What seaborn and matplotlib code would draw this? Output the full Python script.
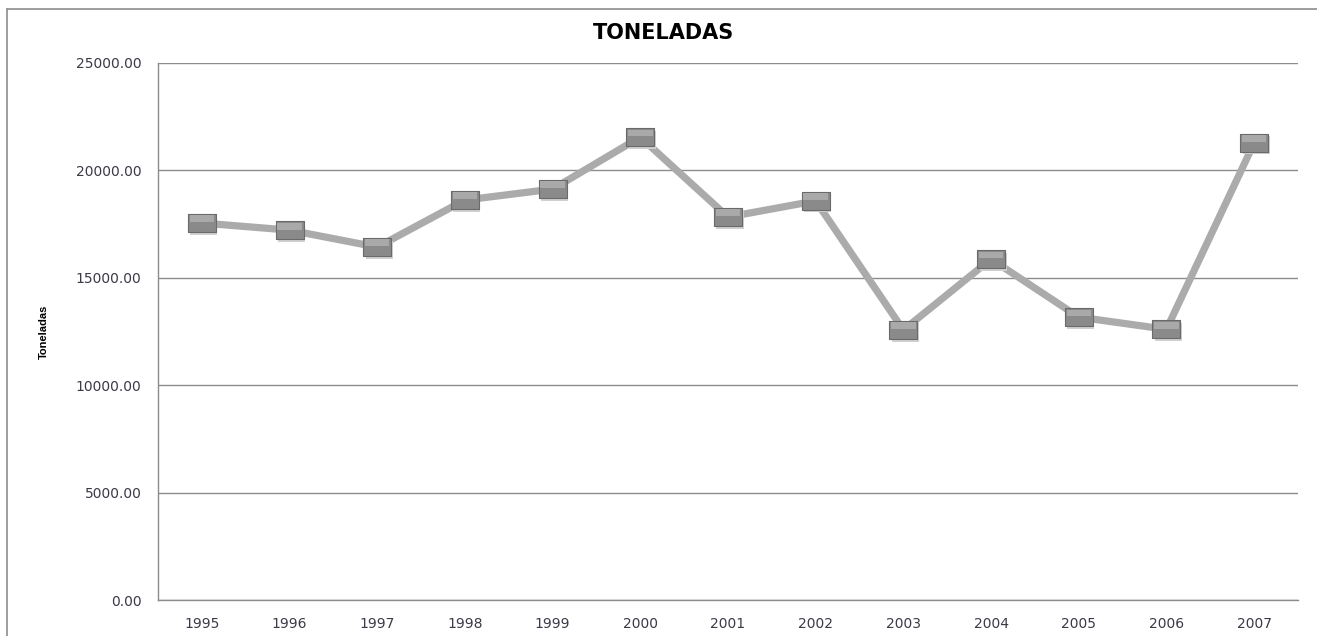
"""
Grafik garis TONELADAS per tahun (1995 - 2007) dengan gaya ala Excel.
"""

import matplotlib

matplotlib.use("Agg")
import matplotlib.pyplot as plt
import matplotlib.transforms as mtransforms
from matplotlib.lines import Line2D
from matplotlib.path import Path
import pandas as pd
import seaborn as sns


YEARS = ["1995", "1996", "1997", "1998", "1999", "2000", "2001",
         "2002", "2003", "2004", "2005", "2006", "2007"]
TONELADAS = [17550, 17220, 16430, 18620, 19130, 21550, 17830,
             18580, 12570, 15870, 13170, 12600, 21280]
Y_TICKS = [0, 5000, 10000, 15000, 20000, 25000]

TITLE = "TONELADAS"
Y_LABEL = "Toneladas"


def rect_path(y0, y1):
    verts = [(-1, y0), (1, y0), (1, y1), (-1, y1), (-1, y0)]
    codes = [Path.MOVETO, Path.LINETO, Path.LINETO, Path.LINETO, Path.CLOSEPOLY]
    return Path(verts, codes)


def main() -> None:
    sns.set_theme(style="white", context="notebook")
    plt.rcParams["font.family"] = ["DejaVu Sans"]

    df = pd.DataFrame({"Tahun": YEARS, "Toneladas": TONELADAS})

    fig = plt.figure(figsize=(13.17, 6.36), dpi=100)
    ax = fig.add_axes([158 / 1317, 36 / 636, 1140 / 1317, 537 / 636])

    # Garis utama.
    sns.lineplot(data=df, x="Tahun", y="Toneladas", color="#ababab",
                 linewidth=5.2, ax=ax, zorder=3, sort=False)

    # Penanda persegi panjang: bayangan, badan, kilau atas, dan sisi bawah gelap.
    body = rect_path(-0.67, 0.67)
    shine = rect_path(0.05, 0.62)
    size = 380

    sns.scatterplot(data=df, x="Tahun", y="Toneladas", marker=body, s=size,
                    color="#d0d0d0", edgecolor="none", linewidth=0, ax=ax, zorder=4)
    shadow = ax.collections[-1]
    shadow.set_offset_transform(
        ax.transData + mtransforms.ScaledTranslation(2 / 100, -2.5 / 100, fig.dpi_scale_trans)
    )

    sns.scatterplot(data=df, x="Tahun", y="Toneladas", marker=body, s=size,
                    color="#8a8a8a", edgecolor="#6a6a6a", linewidth=0.8, ax=ax, zorder=5)
    sns.scatterplot(data=df, x="Tahun", y="Toneladas", marker=shine, s=size * 0.82,
                    color="#a9a9a9", edgecolor="none", linewidth=0, ax=ax, zorder=6)

    ax.set_xlim(-0.5, len(YEARS) - 0.5)
    ax.set_ylim(Y_TICKS[0], Y_TICKS[-1])
    ax.set_yticks(Y_TICKS)
    ax.set_yticklabels([f"{v:.2f}" for v in Y_TICKS])

    ax.yaxis.grid(True, color="#8c8c8c", linewidth=1.0)
    ax.xaxis.grid(False)
    ax.set_axisbelow(True)

    for side in ["top", "right"]:
        ax.spines[side].set_visible(False)
    for side in ["left", "bottom"]:
        ax.spines[side].set_color("#8c8c8c")
        ax.spines[side].set_linewidth(1.0)

    ax.tick_params(axis="both", length=0, labelsize=10, colors="#3a3a48")
    ax.tick_params(axis="x", pad=12)
    ax.tick_params(axis="y", pad=12)
    ax.set_xlabel("")
    ax.set_ylabel("")

    fig.suptitle(TITLE, x=663 / 1317, y=1 - 33 / 636, va="center",
                 fontsize=15, fontweight="bold", color="#000000",
                 family=["DejaVu Sans"])
    fig.text(44 / 1317, 1 - 332 / 636, Y_LABEL, rotation=90, ha="center", va="center",
             fontsize=8, fontweight="bold", color="#000000",
             family=["Liberation Sans Narrow", "Liberation Sans", "DejaVu Sans"])

    # Bingkai luar area grafik.
    fig.add_artist(Line2D([7 / 1317, 7 / 1317], [0, 1 - 9 / 636], transform=fig.transFigure,
                          color="#8c8c8c", linewidth=1.2))
    fig.add_artist(Line2D([7 / 1317, 1], [1 - 9 / 636, 1 - 9 / 636], transform=fig.transFigure,
                          color="#8c8c8c", linewidth=1.2))

    fig.savefig("out.png", dpi=100)
    plt.close(fig)


if __name__ == "__main__":
    main()
